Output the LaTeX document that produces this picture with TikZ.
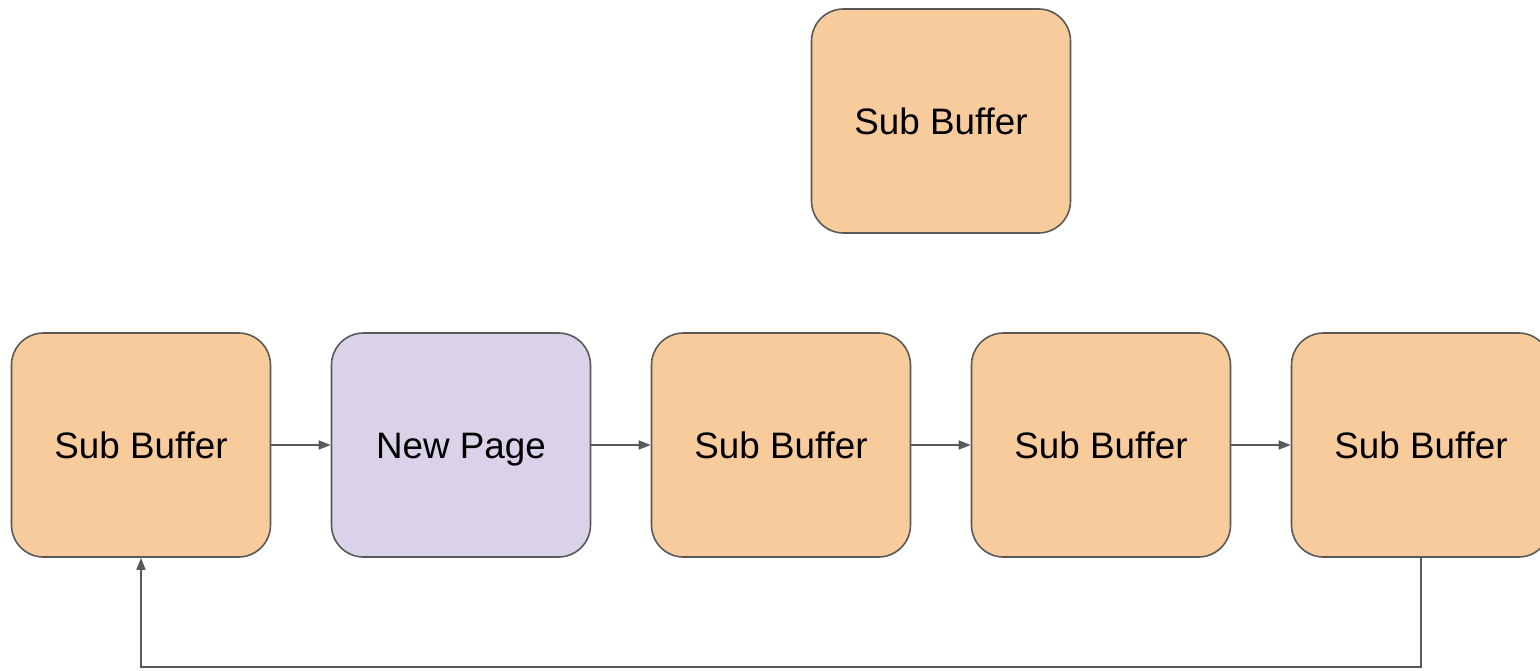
\documentclass[tikz,border=0pt]{standalone}
\usepackage{fontspec}
\setmainfont{Liberation Sans}
\usetikzlibrary{arrows.meta}
\definecolor{bufferfill}{HTML}{F8CB9C}
\definecolor{pagefill}{HTML}{D9D2E9}
\definecolor{edgegray}{HTML}{595959}
\begin{document}
\begin{tikzpicture}[x=1pt,y=-1pt,
  block/.style={draw=edgegray, line width=1.6pt, rounded corners=32pt,
    minimum width=259pt, minimum height=224pt, inner sep=0pt,
    text height=26.3pt, text depth=0pt,
    font=\fontsize{36.8}{44}\selectfont, text=black},
  buf/.style={block, fill=bufferfill},
  newpage/.style={block, fill=pagefill},
  link/.style={draw=edgegray, line width=1.6pt,
    -{Triangle[length=12pt,width=9pt]}}]
\useasboundingbox (0,0) rectangle (1540,670);
\fill[white] (0,0) rectangle (1540,670);
% spare buffer above the chain
\node[buf] (top) at (941,121) {Sub Buffer};
% the chain of buffers
\node[buf] (b1) at (141,445) {Sub Buffer};
\node[newpage] (np) at (461,445) {New Page};
\node[buf] (b3) at (781,445) {Sub Buffer};
\node[buf] (b4) at (1101,445) {Sub Buffer};
\node[buf] (b5) at (1421,445) {Sub Buffer};
\draw[link] (b1) -- (np);
\draw[link] (np) -- (b3);
\draw[link] (b3) -- (b4);
\draw[link] (b4) -- (b5);
% wrap-around from the last buffer back to the first
\coordinate (cr) at (1421,667);
\coordinate (cl) at (141,667);
\draw[link] (b5.south) -- (cr) -- (cl) -- (b1.south);
\end{tikzpicture}
\end{document}
